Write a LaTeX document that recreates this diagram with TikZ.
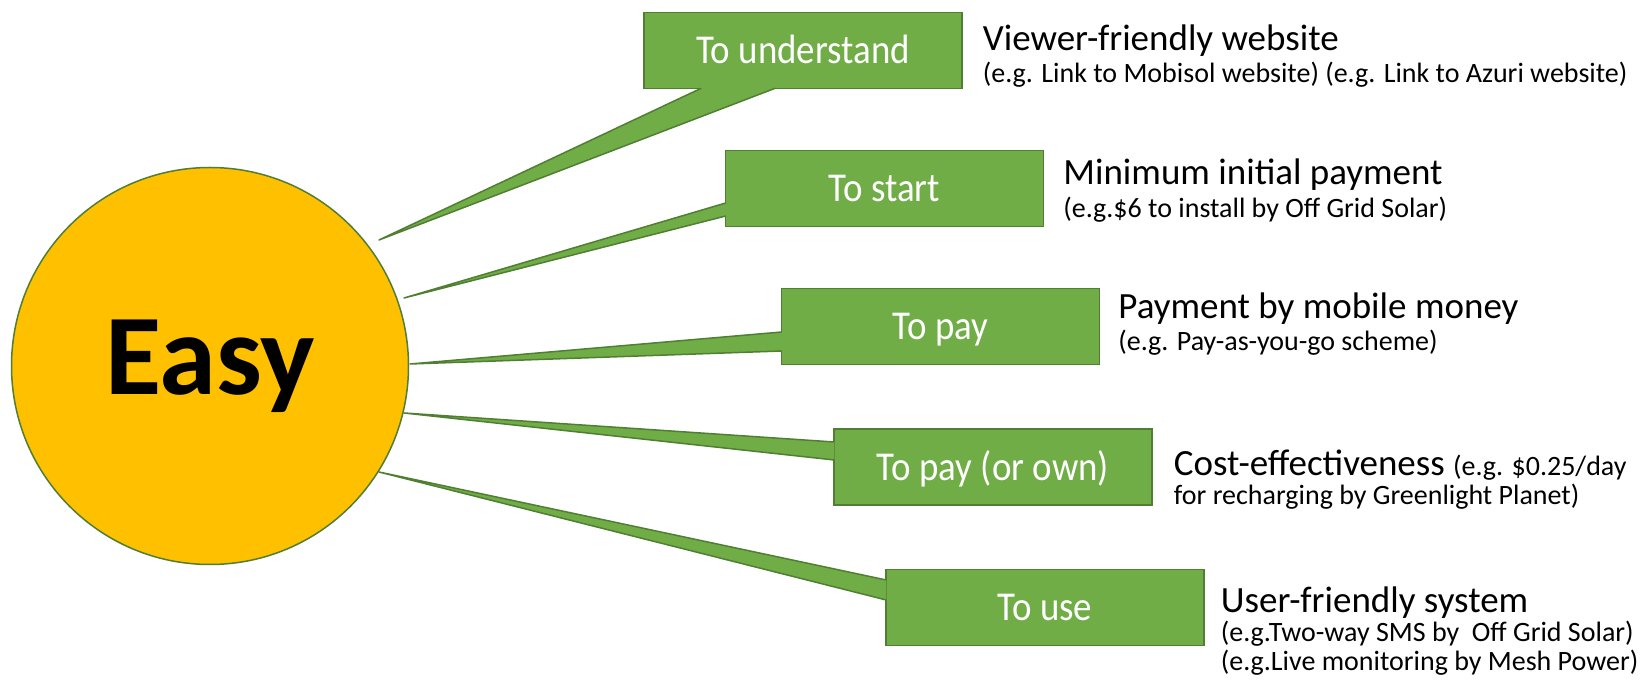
\documentclass[tikz,border=0pt]{standalone}
\usepackage{fontspec}
\setmainfont{Carlito}
\newfontfamily\boxfont[FakeStretch=0.9]{Carlito}
\usetikzlibrary{calc}
\definecolor{easyyellow}{HTML}{FFC000}
\definecolor{leafgreen}{HTML}{70AD47}
\definecolor{leafdark}{HTML}{507E32}
\newcommand{\headsize}{\fontsize{37}{40}\selectfont}
\newcommand{\subsize}{\fontsize{28}{30}\selectfont}

\begin{document}
\begin{tikzpicture}[x=1pt, y=1pt,
    hub/.style={circle, draw=leafdark, line width=1.5pt, fill=easyyellow, minimum size=397pt, inner sep=0pt, font=\fontsize{115}{115}\selectfont\bfseries},
    callout/.style={rectangle, fill=leafgreen, draw=leafdark, line width=1.5pt, minimum width=318pt, minimum height=76pt, inner sep=0pt, text=white, font=\boxfont\fontsize{41}{41}\selectfont, text height=27pt, text depth=0pt},
    wedge/.style={fill=leafgreen, draw=leafdark, line width=1.5pt, line join=round},
    headtxt/.style={anchor=base west, inner sep=0pt, text depth=0pt, font=\headsize},
    subtxt/.style={anchor=base west, inner sep=0pt, text depth=0pt, font=\subsize}]
    \useasboundingbox (0,0) rectangle (1642,682);

    % Hub
    \node[hub] (easy) at (210,316) {Easy};

    % Callout boxes
    \node[callout] (understand) at (803,631.5) {To understand};
    \node[callout] (start) at (884.5,493.5) {To start};
    \node[callout] (pay) at (940.5,355.5) {To pay};
    \node[callout] (own) at (993,215) {To pay (or own)};
    \node[callout] (use) at (1045,74.5) {To use};

    % Wedge tips just off the hub
    \coordinate (tip1) at ($(easy.center)+(169,126)$);
    \coordinate (tip2) at ($(easy.center)+(194,68)$);
    \coordinate (tip3) at ($(easy.center)+(200,2)$);
    \coordinate (tip4) at ($(easy.center)+(194,-47)$);
    \coordinate (tip5) at ($(easy.center)+(169,-106)$);

    % Wedges (open paths, so the base stays unstroked)
    \filldraw[wedge] ($(understand.south west)+(58,1)$) -- (tip1) -- ($(understand.south west)+(132,1)$);
    \filldraw[wedge] ($(start.west)+(1,-14.5)$) -- (tip2) -- ($(start.west)+(1,-27.5)$);
    \filldraw[wedge] ($(pay.west)+(1,-5.5)$) -- (tip3) -- ($(pay.west)+(1,-24.5)$);
    \filldraw[wedge] ($(own.west)+(1,25)$) -- (tip4) -- ($(own.west)+(1,7)$);
    \filldraw[wedge] ($(use.west)+(1,27.5)$) -- (tip5) -- ($(use.west)+(1,7.5)$);

    % Descriptions
    \node[headtxt] (viewer) at ($(understand.east)+(20,0)$) {Viewer-friendly website};
    \node[subtxt] (viewerex) at ($(viewer.base west)+(0,-32)$) {(e.g. Link to Mobisol website) (e.g. Link to Azuri website)};

    \node[headtxt] (minimum) at ($(start.east)+(19,4)$) {Minimum initial payment};
    \node[subtxt] (minimumex) at ($(minimum.base west)+(0,-33)$) {(e.g.\$6 to install by Off Grid Solar)};

    \node[headtxt] (mobile) at ($(pay.east)+(18,8)$) {Payment by mobile money};
    \node[subtxt] (mobileex) at ($(mobile.base west)+(0,-32)$) {(e.g. Pay-as-you-go scheme)};

    \node[headtxt] (cost) at ($(own.east)+(21,-9)$) {Cost-effectiveness {\subsize (e.g. \$0.25/day}};
    \node[subtxt] (costex) at ($(cost.base west)+(0,-29)$) {for recharging by Greenlight Planet)};

    \node[headtxt] (system) at ($(use.east)+(16,-5)$) {User-friendly system};
    \node[subtxt] (systemex) at ($(system.base west)+(0,-29)$) {(e.g.Two-way SMS by\ \ Off Grid Solar)};
    \node[subtxt] (systemlive) at ($(systemex.base west)+(0,-29)$) {(e.g.Live monitoring by Mesh Power)};
\end{tikzpicture}
\end{document}
